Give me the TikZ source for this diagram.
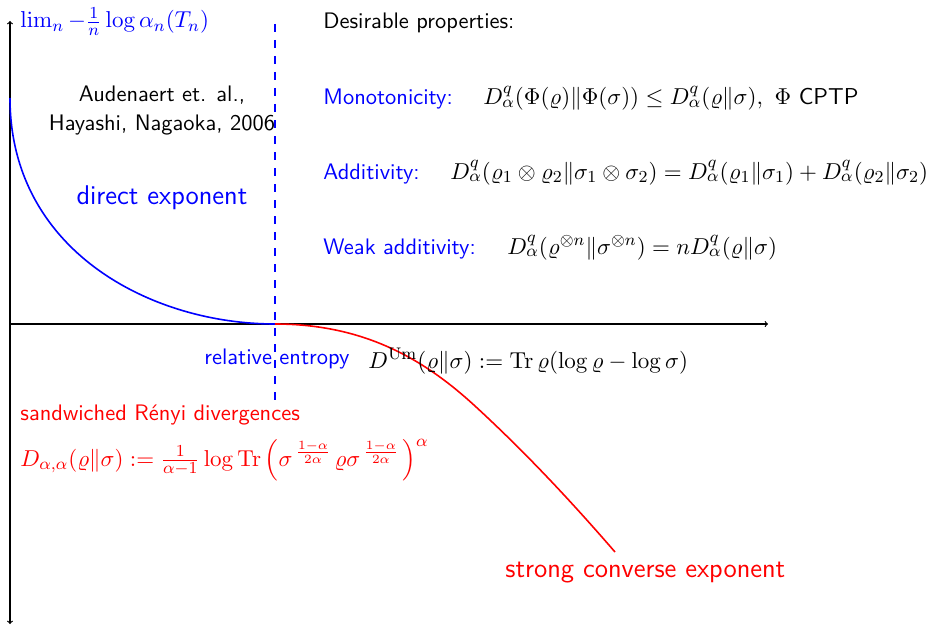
\RequirePackage{fix-cm}
\documentclass[tikz,border=0pt]{standalone}
\usepackage{amsmath,amssymb}
\begin{document}
\begin{tikzpicture}[x=1pt,y=-1pt,
  txt/.style={inner sep=0pt,anchor=base west,font=\fontsize{10.95}{13.6}\selectfont\sffamily,scale=2.05,transform shape},
  mtxt/.style={inner sep=0pt,anchor=base west,font=\fontsize{10.95}{13.6}\selectfont\sffamily,scale=2.1,transform shape},
  bigtxt/.style={txt,font=\fontsize{13.2}{16}\selectfont\sffamily},
  axis/.style={line width=1.2pt,black},
  curve/.style={line width=1.6pt}]
\useasboundingbox (0,0) rectangle (935,626);
% axes
\coordinate (ytop) at (10,21);
\coordinate (ybot) at (10,624);
\coordinate (o) at (10,324);
\coordinate (xend) at (768,324);
\coordinate (re) at (275,324);
\draw[axis,<->] (ybot) -- (ytop);
\draw[axis,->] (o) -- (xend);
% dashed line
\coordinate (dtop) at (275,24);
\coordinate (dbot) at (275,400);
\draw[blue,line width=1.1pt,dash pattern=on 8pt off 8pt] (dtop) -- (dbot);
% curves
\coordinate (rm) at (475,406);
\coordinate (rend) at (615,552);
\draw[curve,blue] (10,98) .. controls (10,250) and (150,324) .. (re);
\draw[curve,red] (re) .. controls (365,324) and (425,360) .. (rm) .. controls (525,452) and (570,500) .. (rend);
% labels
\node[mtxt,text=blue] (ylab) at (20,28) {$\lim_n -\frac{1}{n}\log\alpha_n(T_n)$};
\node[txt,anchor=base] (aud) at (162,102) {Audenaert et. al.,};
\node[txt,anchor=base] (hay) at (162,130) {Hayashi, Nagaoka, 2006};
\node[bigtxt,text=blue,anchor=base] (dir) at (162,204) {direct exponent};
\node[txt] (des) at (323,29) {Desirable properties:};
\node[txt,text=blue] (mono) at (323,105) {Monotonicity:};
\node[mtxt] (monof) at (483,105) {$D^q_\alpha(\Phi(\varrho)\|\Phi(\sigma))\le D^q_\alpha(\varrho\|\sigma),\ \Phi$ CPTP};
\node[txt,text=blue] (add) at (323,179) {Additivity:};
\node[mtxt] (addf) at (450,179) {$D^q_\alpha(\varrho_1\otimes\varrho_2\|\sigma_1\otimes\sigma_2)=D^q_\alpha(\varrho_1\|\sigma_1)+D^q_\alpha(\varrho_2\|\sigma_2)$};
\node[txt,text=blue] (weak) at (323,254) {Weak additivity:};
\node[mtxt] (weakf) at (507,254) {$D^q_\alpha(\varrho^{\otimes n}\|\sigma^{\otimes n})=nD^q_\alpha(\varrho\|\sigma)$};
\node[txt,text=blue] (rel) at (204,364) {relative entropy};
\node[mtxt] (relf) at (368,368) {$D^{\mathrm{Um}}(\varrho\|\sigma):=\mathrm{Tr}\,\varrho(\log\varrho-\log\sigma)$};
\node[txt,text=red] (sand) at (20,420) {sandwiched R\'enyi divergences};
\node[mtxt,text=red] (sandf) at (20,466) {$D_{\alpha,\alpha}(\varrho\|\sigma):=\frac{1}{\alpha-1}\log\mathrm{Tr}\left(\sigma^{\,\frac{1-\alpha}{2\alpha}\,}\varrho\sigma^{\,\frac{1-\alpha}{2\alpha}\,}\right)^{\alpha}$};
\node[bigtxt,text=red] (strong) at (505,577) {strong converse exponent};
\end{tikzpicture}
\end{document}
